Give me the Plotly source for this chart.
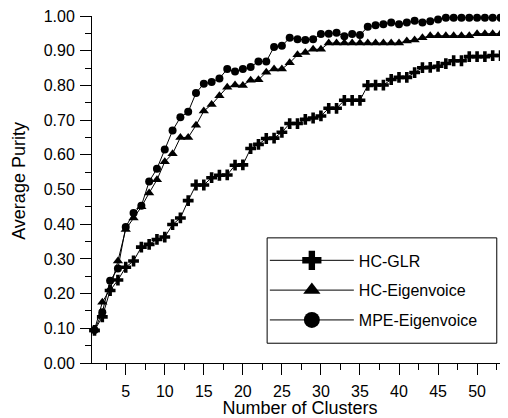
import plotly.graph_objects as go

clusters = list(range(1, 55))

hc_glr = [0.094, 0.133, 0.209, 0.239, 0.276, 0.294, 0.334, 0.342, 0.356, 0.363,
          0.399, 0.418, 0.468, 0.513, 0.513, 0.534, 0.541, 0.542, 0.570, 0.571,
          0.618, 0.630, 0.647, 0.648, 0.665, 0.690, 0.690, 0.702, 0.706, 0.712,
          0.734, 0.734, 0.757, 0.757, 0.757, 0.800, 0.801, 0.801, 0.817, 0.823,
          0.823, 0.837, 0.851, 0.852, 0.855, 0.863, 0.871, 0.871, 0.883, 0.883,
          0.883, 0.886, 0.886, 0.886]

hc_eigen = [0.095, 0.175, 0.213, 0.294, 0.385, 0.418, 0.450, 0.490, 0.528, 0.580,
            0.603, 0.650, 0.650, 0.685, 0.726, 0.745, 0.770, 0.795, 0.801, 0.800,
            0.815, 0.816, 0.838, 0.847, 0.847, 0.865, 0.888, 0.895, 0.904, 0.904,
            0.922, 0.922, 0.922, 0.922, 0.922, 0.922, 0.922, 0.922, 0.922, 0.922,
            0.928, 0.931, 0.937, 0.943, 0.943, 0.943, 0.943, 0.943, 0.943, 0.949,
            0.949, 0.949, 0.949, 0.949]

mpe_eigen = [0.095, 0.146, 0.237, 0.272, 0.392, 0.432, 0.453, 0.523, 0.560, 0.615,
             0.670, 0.708, 0.724, 0.778, 0.805, 0.810, 0.820, 0.847, 0.840, 0.847,
             0.853, 0.869, 0.869, 0.911, 0.914, 0.937, 0.933, 0.931, 0.933, 0.948,
             0.949, 0.952, 0.942, 0.948, 0.945, 0.969, 0.973, 0.976, 0.981, 0.976,
             0.981, 0.986, 0.981, 0.985, 0.990, 0.995, 0.995, 0.995, 0.995, 0.995,
             0.995, 0.995, 0.995, 0.995]

series_names = ["HC-GLR", "HC-Eigenvoice", "MPE-Eigenvoice"]
series_values = [hc_glr, hc_eigen, mpe_eigen]
symbols = ["cross", "triangle-up", "circle"]
plot_sizes = [9, 9, 8]
legend_sizes = [16, 15, 16]

x_tickvals = [5, 10, 15, 20, 25, 30, 35, 40, 45, 50]
y_tickvals = [0.0, 0.1, 0.2, 0.3, 0.4, 0.5, 0.6, 0.7, 0.8, 0.9, 1.0]

FONT = "Liberation Sans, Arial, sans-serif"

fig = go.Figure()
for name, vals, sym, ps, ls in zip(series_names, series_values, symbols, plot_sizes, legend_sizes):
    fig.add_trace(go.Scatter(
        x=clusters, y=vals, mode="lines+markers", name=name, legendgroup=name,
        showlegend=False, cliponaxis=False,
        line=dict(color="black", width=1),
        marker=dict(symbol=sym, size=ps, color="black", line=dict(width=0)),
    ))
    fig.add_trace(go.Scatter(
        x=[None], y=[None], mode="lines+markers", name=name, legendgroup=name,
        showlegend=True,
        line=dict(color="black", width=1),
        marker=dict(symbol=sym, size=ls, color="black", line=dict(width=0)),
    ))

# legend frame
fig.add_shape(type="rect", xref="paper", yref="paper",
              x0=0.421, x1=0.973, y0=0.057, y1=0.3606,
              line=dict(color="black", width=1), fillcolor="rgba(0,0,0,0)")

# y-axis title placed as annotation to match its position in the reference
fig.add_annotation(text="Average Purity", xref="paper", yref="paper",
                   x=-0.1755, y=0.525, xanchor="center", yanchor="middle",
                   textangle=-90, showarrow=False,
                   font=dict(family=FONT, size=18, color="black"))

# the page body adds an 8px margin, so the figure is 8px smaller and shifted
fig.update_layout(
    width=500, height=410,
    margin=dict(l=84, r=0, t=5, b=55),
    paper_bgcolor="white", plot_bgcolor="white",
    font=dict(family=FONT, size=16, color="black"),
    showlegend=True,
    legend=dict(x=0.4155, y=0.3606 - 0.016, xanchor="left", yanchor="top",
                bgcolor="rgba(0,0,0,0)", borderwidth=0,
                font=dict(family=FONT, size=16, color="black"),
                itemwidth=84, tracegroupgap=6, traceorder="grouped"),
    xaxis=dict(range=[0.68, 53.96], showgrid=False, zeroline=False,
               showline=True, linecolor="black", linewidth=1,
               ticks="outside", ticklen=11, tickcolor="black", tickwidth=1,
               tickmode="array", tickvals=x_tickvals, ticklabelstandoff=3,
               minor=dict(dtick=2.5, tick0=0, ticks="outside", ticklen=6,
                          tickcolor="black", tickwidth=1),
               tickfont=dict(size=16),
               title=dict(text="Number of Clusters", font=dict(size=18), standoff=3)),
    yaxis=dict(range=[0, 1.0], showgrid=False, zeroline=False,
               showline=True, linecolor="black", linewidth=1,
               ticks="outside", ticklen=11, tickcolor="black", tickwidth=1,
               tickmode="array", tickvals=y_tickvals, tickformat=".2f",
               ticklabelstandoff=2, ticklabeloverflow="allow",
               minor=dict(dtick=0.05, tick0=0, ticks="outside", ticklen=6,
                          tickcolor="black", tickwidth=1),
               tickfont=dict(size=16)),
)

fig.write_html("out.html")
